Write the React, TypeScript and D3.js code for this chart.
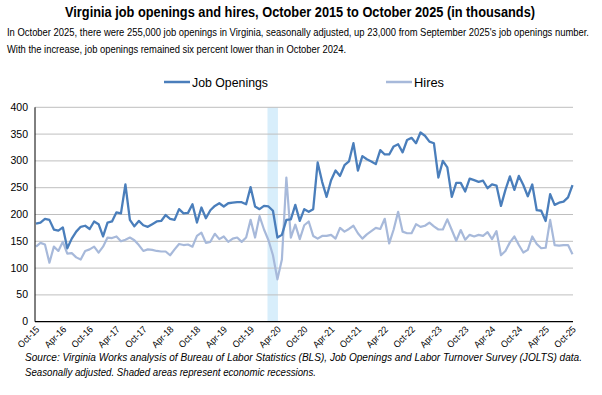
import * as d3 from 'd3'

// Virginia JOLTS, monthly Oct 2015 - Oct 2025, thousands
const jobOpenings = [
  183, 185, 192, 190, 172, 170, 176, 137, 155, 168, 177, 179, 173, 187, 182, 159, 185, 187, 204, 202,
  256, 190, 178, 188, 180, 177, 182, 187, 188, 199, 192, 190, 210, 202, 203, 219, 185, 213, 193, 208,
  216, 221, 215, 221, 222, 223, 223, 219, 251, 215, 210, 216, 215, 207, 157, 162, 190, 191, 218, 188,
  210, 205, 210, 297, 261, 233, 264, 282, 272, 292, 299, 333, 282, 309, 303, 299, 294, 320, 312, 312,
  327, 331, 316, 339, 343, 333, 353, 347, 336, 333, 269, 300, 288, 233, 259, 259, 243, 267, 264, 261,
  263, 249, 256, 254, 216, 246, 271, 246, 272, 255, 234, 256, 208, 207, 188, 238, 218, 222, 224, 232,
  255,
]

const hires = [
  140, 147, 144, 110, 140, 132, 149, 127, 128, 120, 116, 132, 135, 140, 129, 140, 157, 156, 159, 150,
  153, 157, 152, 143, 132, 135, 134, 132, 131, 131, 124, 135, 145, 143, 144, 140, 160, 166, 147, 149,
  164, 154, 159, 149, 155, 157, 149, 157, 190, 157, 197, 172, 152, 124, 79, 116, 269, 157, 181, 154,
  180, 187, 160, 155, 160, 160, 162, 155, 175, 168, 173, 179, 165, 155, 163, 169, 175, 173, 192, 146,
  172, 205, 168, 165, 165, 182, 177, 179, 185, 178, 172, 172, 191, 171, 151, 171, 153, 162, 159, 162,
  160, 167, 154, 169, 124, 132, 148, 159, 143, 129, 134, 159, 145, 137, 138, 190, 143, 142, 143, 143,
  126,
]

const months = d3
  .timeMonth.range(new Date(2015, 9, 1), new Date(2025, 10, 1))
  .map(d3.timeFormat('%b-%y'))

const tickLabels = [
  'Oct-15', 'Apr-16', 'Oct-16', 'Apr-17', 'Oct-17', 'Apr-18', 'Oct-18', 'Apr-19', 'Oct-19', 'Apr-20', 'Oct-20',
  'Apr-21', 'Oct-21', 'Apr-22', 'Oct-22', 'Apr-23', 'Oct-23', 'Apr-24', 'Oct-24', 'Apr-25', 'Oct-25',
]
const yTicks = [0, 50, 100, 150, 200, 250, 300, 350, 400]
const recession = ['Feb-20', 'Apr-20']
const seriesNames = ['Job Openings', 'Hires']

const title = 'Virginia job openings and hires, October 2015 to October 2025 (in thousands)'
const subtitle = [
  "In October 2025, there were 255,000 job openings in Virginia, seasonally adjusted, up 23,000 from September 2025's job openings number.",
  'With the increase, job openings remained six percent lower than in October 2024.',
]
const source = [
  'Source: Virginia Works analysis of Bureau of Labor Statistics (BLS), Job Openings and Labor Turnover Survey (JOLTS) data.',
  'Seasonally adjusted.  Shaded areas represent economic recessions.',
]

const FONT = "'Liberation Sans Narrow', 'Liberation Sans', Arial, sans-serif"
const BLUE = '#4a7ebb'
const LIGHT = '#a7b9da'

export default function App() {
  const width = 602
  const height = 395
  const left = 35
  const right = 573
  const top = 107.3
  const bottom = 321.7

  const x = d3.scalePoint<string>().domain(months).range([36, 572.5])
  const y = d3.scaleLinear().domain([0, 400]).range([bottom, top])

  const line = d3
    .line<number>()
    .x((_, i) => x(months[i]) as number)
    .y((d) => y(d))

  const recX0 = (x(recession[0]) as number) - 1
  const recX1 = (x(recession[1]) as number) + 0.5

  return (
    <svg
      width={width}
      height={height}
      style={{ position: 'absolute', left: 0, top: 0, background: '#fff' }}
      fontFamily={FONT}
    >
      <text x={300} y={17} textAnchor="middle" fontWeight="bold" fontSize={14} textLength={470} lengthAdjust="spacingAndGlyphs">
        {title}
      </text>
      <text x={7} y={36} fontSize={11} textLength={582} lengthAdjust="spacingAndGlyphs">
        {subtitle[0]}
      </text>
      <text x={7} y={53} fontSize={11} textLength={339} lengthAdjust="spacingAndGlyphs">
        {subtitle[1]}
      </text>

      {/* legend */}
      {seriesNames.map((name, i) => {
        const lx = i === 0 ? 164 : 386
        return (
          <g key={name}>
            <line x1={lx} x2={lx + 26} y1={82} y2={82} stroke={i === 0 ? BLUE : LIGHT} strokeWidth={2.5} />
            <text x={lx + 28} y={86.5} fontSize={13} textLength={i === 0 ? 76 : 30} lengthAdjust="spacingAndGlyphs">
              {name}
            </text>
          </g>
        )
      })}

      {/* recession band */}
      <rect x={recX0} y={top} width={recX1 - recX0} height={bottom - top} fill="#d8eefb" />

      {/* gridlines + y labels */}
      {yTicks.map((t) => (
        <g key={t}>
          {t > 0 && <line x1={left} x2={right} y1={y(t)} y2={y(t)} stroke="#bfbfbf" strokeWidth={1} />}
          <text x={28} y={y(t) + 3.5} textAnchor="end" fontSize={10.5}>
            {t}
          </text>
        </g>
      ))}

      <path d={line(hires) ?? ''} fill="none" stroke={LIGHT} strokeWidth={2.2} strokeLinejoin="round" />
      <path d={line(jobOpenings) ?? ''} fill="none" stroke={BLUE} strokeWidth={2.3} strokeLinejoin="round" />

      {/* axes */}
      <line x1={left} x2={left} y1={top} y2={bottom} stroke="#000" strokeWidth={1} />
      <line x1={left} x2={right} y1={bottom} y2={bottom} stroke="#000" strokeWidth={1.2} />

      {tickLabels.map((lab) => (
        <text
          key={lab}
          transform={`translate(${(x(lab) as number) + 4},330) rotate(-45)`}
          textAnchor="end"
          fontSize={9.5}
          textLength={26}
          lengthAdjust="spacingAndGlyphs"
        >
          {lab}
        </text>
      ))}

      <text x={25} y={361} fontSize={10.5} fontStyle="italic" textLength={557} lengthAdjust="spacingAndGlyphs">
        {source[0]}
      </text>
      <text x={25} y={376} fontSize={10.5} fontStyle="italic" textLength={291} lengthAdjust="spacingAndGlyphs">
        {source[1]}
      </text>
    </svg>
  )
}
